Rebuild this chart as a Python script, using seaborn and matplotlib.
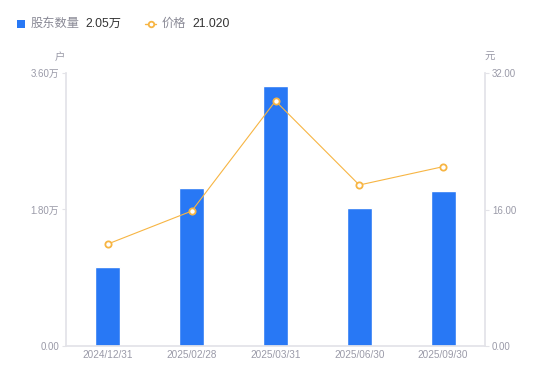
import matplotlib
matplotlib.use("Agg")
import matplotlib.pyplot as plt
import seaborn as sns
import numpy as np
from matplotlib.lines import Line2D
from matplotlib.patches import Rectangle

dates = ["2024/12/31", "2025/02/28", "2025/03/31", "2025/06/30", "2025/09/30"]
shareholders = [1.04, 2.08, 3.43, 1.82, 2.05]   # 万户
price = [11.96, 15.82, 28.72, 18.87, 21.02]       # 元
left_ticks = [0, 1.8, 3.6]
left_labels = ["0.00", "1.80万", "3.60万"]
right_ticks = [0, 16, 32]
right_labels = ["0.00", "16.00", "32.00"]

sns.set_theme(style="white")
plt.rcParams['font.family'] = ['Liberation Sans', 'Noto Sans CJK SC', 'DejaVu Sans']

BLUE = "#2878f5"
ORANGE = "#f7b543"
GRAY = "#9a9aa8"
AXC = "#e3e3e8"

fig = plt.figure(figsize=(5.5, 3.81), dpi=100)
ax = fig.add_axes([66/550, 35/381, (485-66)/550, (346-73)/381])

sns.barplot(x=dates, y=shareholders, ax=ax, color=BLUE, width=0.3, saturation=1)
ax.set_ylim(0, 3.6)
ax.set_xlim(-0.5, len(dates) - 0.5)
ax.set_yticks(left_ticks)
ax.set_yticklabels(left_labels)
ax.set_xlabel("")
ax.set_ylabel("")

ax2 = ax.twinx()
sns.lineplot(x=np.arange(len(price)), y=price, ax=ax2, color=ORANGE, linewidth=0.8,
             marker="o", markersize=4.5, markerfacecolor="white",
             markeredgecolor=ORANGE, markeredgewidth=1.3)
ax2.set_ylim(0, 32)
ax2.set_xlim(-0.5, len(dates) - 0.5)
ax2.set_yticks(right_ticks)
ax2.set_yticklabels(right_labels)
ax2.set_ylabel("")

for a in (ax, ax2):
    for s in a.spines.values():
        s.set_visible(False)
    a.grid(False)

ax.spines['left'].set_visible(True)
ax.spines['left'].set_color(AXC)
ax.spines['bottom'].set_visible(True)
ax.spines['bottom'].set_color(AXC)
ax2.spines['right'].set_visible(True)
ax2.spines['right'].set_color(AXC)

ax.tick_params(axis='y', length=3, width=0.8, color=AXC, labelcolor=GRAY, labelsize=7, pad=2, left=True)
ax.tick_params(axis='x', length=0, labelcolor=GRAY, labelsize=7.2, pad=3)
ax2.tick_params(axis='y', length=3, width=0.8, color=AXC, labelcolor=GRAY, labelsize=7, pad=2, right=True)

# unit labels
fig.text(60/550, 1 - 57/381, "户", color=GRAY, fontsize=7.5, ha='center', va='center')
fig.text(490/550, 1 - 57/381, "元", color=GRAY, fontsize=7.5, ha='center', va='center')

# legend
ly = 1 - 24/381
fig.patches.append(Rectangle((17/550, 1 - 28/381), 8/550, 8/381, transform=fig.transFigure,
                             facecolor=BLUE, edgecolor='none'))
fig.text(31/550, ly, "股东数量", color="#8a8a96", fontsize=8.8, va='center', ha='left')
fig.text(85/550, ly, f"{shareholders[-1]:.2f}万", color="#333333", fontsize=8.8, va='center', ha='left')
fig.lines.append(Line2D([145/550, 156/550], [ly, ly], transform=fig.transFigure, color=ORANGE, linewidth=1))
fig.lines.append(Line2D([150.5/550], [ly], transform=fig.transFigure, marker='o', markersize=4,
                        markerfacecolor='white', markeredgecolor=ORANGE, markeredgewidth=1.3))
fig.text(162/550, ly, "价格", color="#8a8a96", fontsize=8.8, va='center', ha='left')
fig.text(192/550, ly, f"{price[-1]:.3f}", color="#333333", fontsize=8.8, va='center', ha='left')

fig.savefig("out.png", dpi=100)
